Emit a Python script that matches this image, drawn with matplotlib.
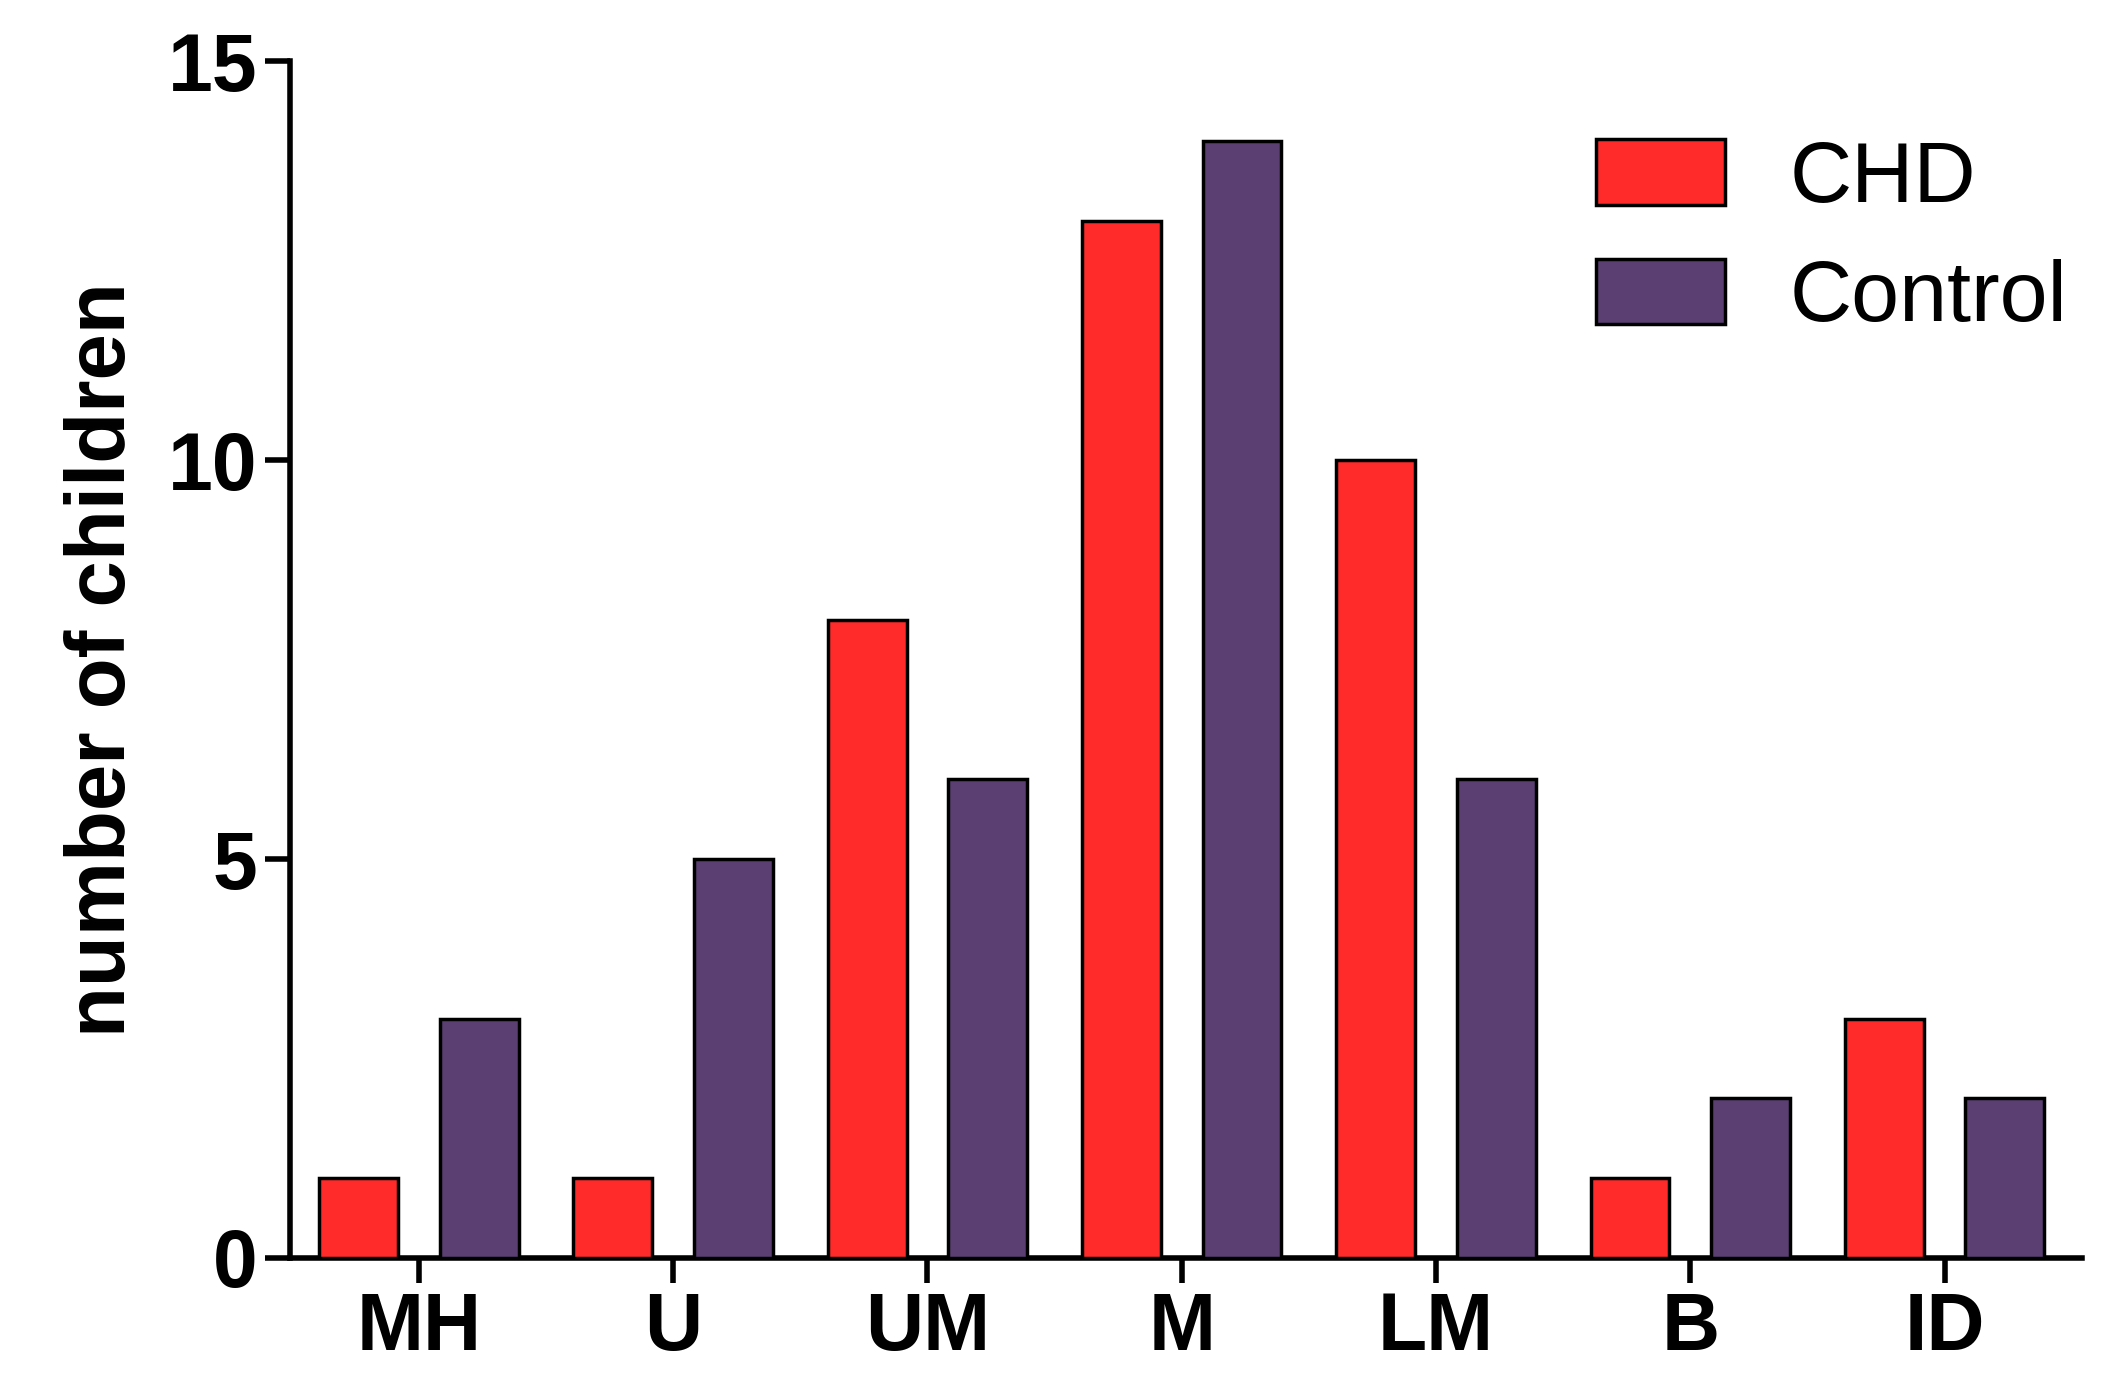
import matplotlib
matplotlib.use("Agg")
import matplotlib.pyplot as plt
import numpy as np
from matplotlib.patches import Patch

categories = ["MH", "U", "UM", "M", "LM", "B", "ID"]
chd = [1, 1, 8, 13, 10, 1, 3]
control = [3, 5, 6, 14, 6, 2, 2]
yticks = [0, 5, 10, 15]

plt.rcParams['font.family'] = ['Liberation Sans', 'DejaVu Sans']
fig = plt.figure(figsize=(21.2, 13.96), dpi=100)
ax = fig.add_axes([0.137, 0.099, 0.845, 0.857])
x = np.arange(len(categories))
w = 0.31
ax.bar(x - 0.237, chd, w, color="#FF2A2A", edgecolor="black", linewidth=2.5, zorder=3)
ax.bar(x + 0.237, control, w, color="#5B3F73", edgecolor="black", linewidth=2.5, zorder=3)
ax.set_xlim(-0.505, 6.54)
ax.set_ylim(0, 15)
ax.set_xticks(x)
ax.set_xticklabels(categories, fontsize=58, fontweight="bold")
ax.set_yticks(yticks)
ax.set_yticklabels([str(t) for t in yticks], fontsize=58, fontweight="bold")
for s in ["top", "right"]:
    ax.spines[s].set_visible(False)
for s in ["left", "bottom"]:
    ax.spines[s].set_linewidth(4)
ax.tick_params(direction="out", length=18, width=4, pad=6)
ax.set_ylabel("number of children", fontsize=60, fontweight="bold", labelpad=18)
handles = [Patch(facecolor="#FF2A2A", edgecolor="black", linewidth=2.5, label="CHD"),
           Patch(facecolor="#5B3F73", edgecolor="black", linewidth=2.5, label="Control")]
ax.legend(handles=handles, loc="upper right", bbox_to_anchor=(1.035, 1.0), frameon=False,
          fontsize=62, handlelength=1.5, handleheight=0.8, handletextpad=0.75, labelspacing=0.45)
fig.savefig("out.png", dpi=100)
